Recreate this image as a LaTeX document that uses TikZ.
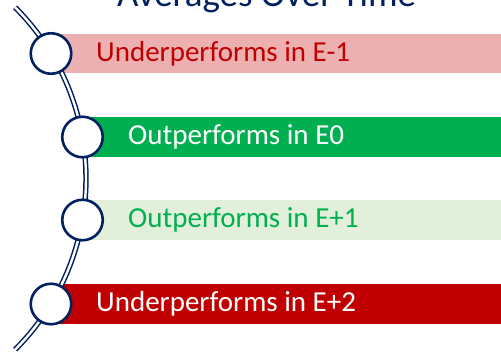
\documentclass[tikz,border=0pt]{standalone}
\usepackage{fontspec}
\setmainfont{Carlito}
\usetikzlibrary{calc}
\definecolor{navy}{RGB}{0,32,96}
\definecolor{darkred}{RGB}{192,0,0}
\definecolor{pinkbar}{RGB}{237,176,176}
\definecolor{greenbar}{RGB}{0,176,80}
\definecolor{palegreen}{RGB}{226,239,218}
\begin{document}
\begin{tikzpicture}[x=1pt,y=-1pt,
  barlabel/.style={anchor=west,inner sep=0pt,font=\fontsize{29}{30}\selectfont},
  dot/.style={circle,draw=navy,line width=2.6pt,fill=white,minimum size=40.5pt,inner sep=0pt},
  track/.style={draw=navy,line width=1.5pt,double=white,double distance=2.4pt}
]
\useasboundingbox (0,0) rectangle (501,351);
% bars
\fill[pinkbar]   (51,34)  rectangle (502,73);
\fill[greenbar]  (82.5,117) rectangle (502,157);
\fill[palegreen] (82.5,200) rectangle (502,240);
\fill[darkred]   (51,284) rectangle (502,324);
% title
\node[anchor=base west,inner sep=0pt,text=navy,font=\fontsize{37}{39}\selectfont] (title) at (117,6) {Averages Over Time};
% track arc
\coordinate (c) at (-156,178.5);
\coordinate (top) at ($(c)+(45:242)$);
\path[track] (top) arc[start angle=45,end angle=-45,radius=242];
% circles
\node[dot] (d1) at (51,53.5) {};
\node[dot] (d2) at (82.5,137) {};
\node[dot] (d3) at (82.5,220) {};
\node[dot] (d4) at (51,304) {};
% labels
\node[barlabel,text=darkred] (l1) at (96,53.5) {Underperforms in E-1};
\node[barlabel,text=white] (l2) at (128,137) {Outperforms in E0};
\node[barlabel,text=greenbar] (l3) at (128,220) {Outperforms in E+1};
\node[barlabel,text=white] (l4) at (96,304) {Underperforms in E+2};
\end{tikzpicture}
\end{document}
